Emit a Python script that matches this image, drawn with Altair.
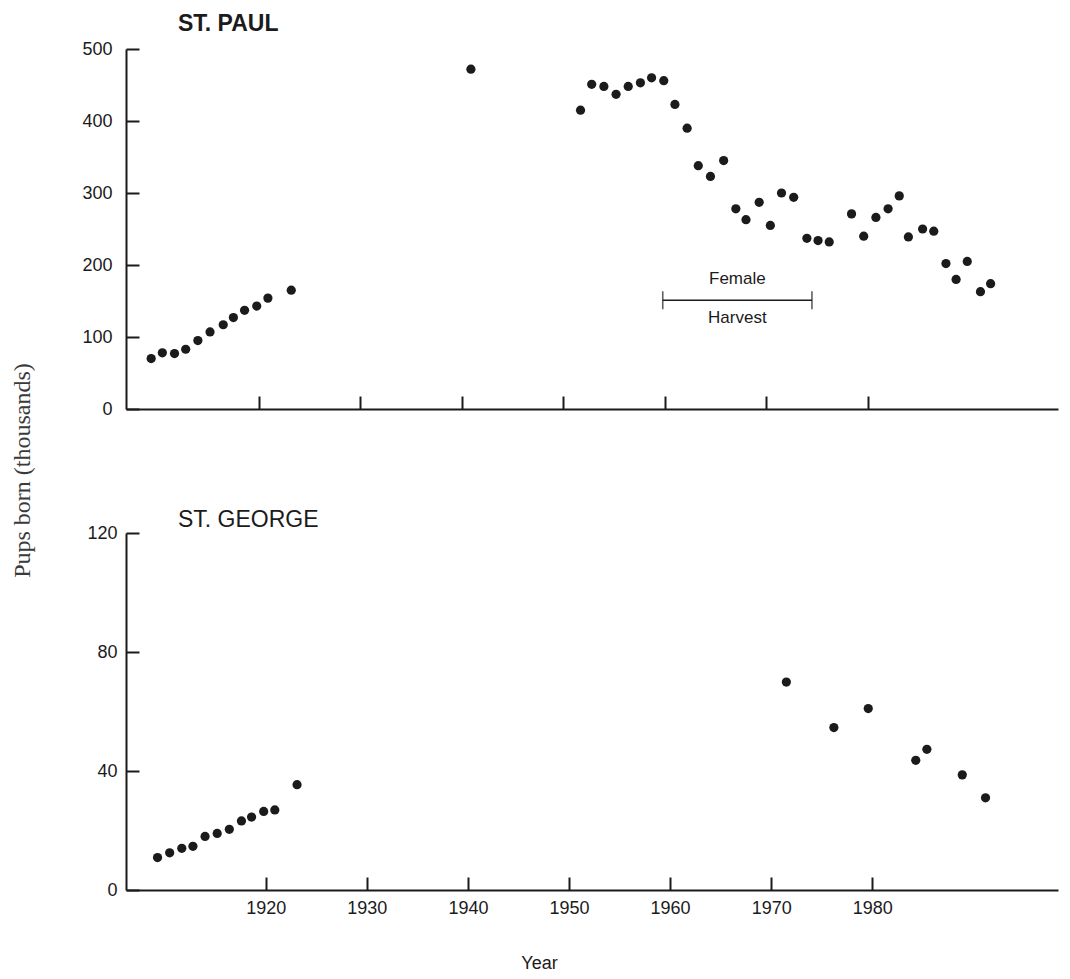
import altair as alt
import pandas as pd

# ---------------- data ----------------
# St. Paul (pups born, thousands); years
paul_years = [1909.4, 1910.5, 1911.7, 1912.8, 1914.0, 1915.2, 1916.5, 1917.5, 1918.6,
              1919.8, 1920.9, 1923.2, 1940.9,
              1951.7, 1952.8, 1954.0, 1955.2, 1956.4, 1957.6, 1958.7, 1959.9, 1961.0,
              1962.2, 1963.3, 1964.5, 1965.8, 1967.0, 1968.0, 1969.3, 1970.4, 1971.5,
              1972.7, 1974.0, 1975.1, 1976.2,
              1978.4, 1979.6, 1980.8, 1982.0, 1983.1, 1984.0, 1985.4, 1986.5, 1987.7,
              1988.7, 1989.8, 1991.1, 1992.1]
paul_pups = [70, 78, 77, 83, 95, 107, 117, 127, 137,
             143, 154, 165, 472,
             415, 451, 448, 437, 448, 453, 460, 456, 423,
             390, 338, 323, 345, 278, 263, 287, 255, 300,
             294, 237, 234, 232,
             271, 240, 266, 278, 296, 239, 250, 247, 202,
             180, 205, 163, 174]

# St. George
george_years = [1909.3, 1910.5, 1911.7, 1912.8, 1914.0, 1915.2, 1916.4, 1917.6, 1918.6,
                1919.8, 1920.9, 1923.1,
                1971.5, 1976.2, 1979.6, 1984.3, 1985.4, 1988.9, 1991.2]
george_pups = [10.9, 12.5, 14.0, 14.7, 18.0, 19.0, 20.4, 23.2, 24.5,
               26.4, 26.9, 35.4,
               69.9, 54.6, 61.0, 43.6, 47.3, 38.7, 31.0]

# Female harvest bracket (St. Paul panel)
harvest_start = 1959.8
harvest_end = 1974.5
harvest_level = 151
harvest_top_label = "Female"
harvest_bottom_label = "Harvest"

year_ticks = [1920, 1930, 1940, 1950, 1960, 1970, 1980]
paul_ticks = [0, 100, 200, 300, 400, 500]
george_ticks = [0, 40, 80, 120]

paul_df = pd.DataFrame({"year": paul_years, "pups": paul_pups})
george_df = pd.DataFrame({"year": george_years, "pups": george_pups})
harvest_df = pd.DataFrame({"start": [harvest_start], "end": [harvest_end],
                           "level": [harvest_level],
                           "mid": [(harvest_start + harvest_end) / 2],
                           "top": [harvest_top_label], "bottom": [harvest_bottom_label]})
caps_df = pd.DataFrame({"year": [harvest_start, harvest_end],
                        "level": [harvest_level, harvest_level]})

# ---------------- styling ----------------
INK = "#1b1b1b"
FONT = "Liberation Sans"
W = 932


def panel(df, xdomain, ydomain, yticks, height, title, title_weight, title_offset,
          bottom, ylabel_pad, extra=None):
    xs = alt.Scale(domain=xdomain, nice=False, zero=False)
    ys = alt.Scale(domain=ydomain, nice=False, zero=False)

    x_kw = dict(values=year_ticks, ticks=False, tickSize=0, domain=True,
                domainColor=INK, domainWidth=2, grid=False, format="d",
                labelFont=FONT, labelFontSize=18, labelColor=INK, labelPadding=9)
    if bottom:
        x_kw.update(labels=True, title="Year", titleFont=FONT, titleFontSize=18,
                    titleFontWeight="normal", titleColor=INK, titleX=413, titleY=73,
                    titleAlign="center", titleBaseline="middle")
    else:
        x_kw.update(labels=False, title=None)

    y_kw = dict(values=yticks, ticks=False, tickSize=0, domain=True,
                domainColor=INK, domainWidth=2, grid=False,
                labelFont=FONT, labelFontSize=18, labelColor=INK,
                labelPadding=ylabel_pad)
    if not bottom:
        y_kw.update(title="Pups born (thousands)", titleFont="Liberation Serif",
                    titleFontSize=24, titleFontWeight="normal", titleColor="#3a3a3a",
                    titleAngle=270, titleX=-104, titleY=421, titleAlign="center",
                    titleBaseline="middle")
    else:
        y_kw.update(title=None)

    points = alt.Chart(df).mark_circle(size=85, color=INK, opacity=1).encode(
        x=alt.X("year:Q", scale=xs, axis=alt.Axis(**x_kw)),
        y=alt.Y("pups:Q", scale=ys, axis=alt.Axis(**y_kw)),
    )
    # inward-pointing tick marks drawn by a second set of axes
    ticks = alt.Chart(df).mark_circle(opacity=0).encode(
        x=alt.X("year:Q", scale=xs,
                axis=alt.Axis(values=year_ticks, orient="bottom", offset=-13,
                              domain=False, labels=False, ticks=True, tickSize=13,
                              tickWidth=2, tickColor=INK, grid=False, title=None)),
        y=alt.Y("pups:Q", scale=ys,
                axis=alt.Axis(values=yticks, orient="left", offset=-13,
                              domain=False, labels=False, ticks=True, tickSize=13,
                              tickWidth=2, tickColor=INK, grid=False, title=None)),
    )
    layers = [points, ticks]
    if extra is not None:
        layers += extra(xs, ys)
    return alt.layer(*layers).resolve_axis(x="independent", y="independent").properties(
        width=W, height=height,
        title=alt.TitleParams(text=title, anchor="start", frame="group", dx=52,
                              offset=title_offset, fontSize=23, font=FONT,
                              fontWeight=title_weight, color=INK),
    )


def harvest_layers(xs, ys):
    line = alt.Chart(harvest_df).mark_rule(color=INK, strokeWidth=1.6).encode(
        x=alt.X("start:Q", scale=xs, axis=None),
        x2="end:Q",
        y=alt.Y("level:Q", scale=ys, axis=None),
    )
    caps = alt.Chart(caps_df).mark_tick(color=INK, orient="vertical", size=18,
                                        thickness=1.6).encode(
        x=alt.X("year:Q", scale=xs, axis=None),
        y=alt.Y("level:Q", scale=ys, axis=None),
    )
    top_txt = alt.Chart(harvest_df).mark_text(font=FONT, fontSize=17, color=INK,
                                              dy=-21, baseline="middle").encode(
        x=alt.X("mid:Q", scale=xs, axis=None),
        y=alt.Y("level:Q", scale=ys, axis=None),
        text="top:N",
    )
    bot_txt = alt.Chart(harvest_df).mark_text(font=FONT, fontSize=17, color=INK,
                                              dy=18, baseline="middle").encode(
        x=alt.X("mid:Q", scale=xs, axis=None),
        y=alt.Y("level:Q", scale=ys, axis=None),
        text="bottom:N",
    )
    return [line, caps, top_txt, bot_txt]


top = panel(paul_df, [1906.92, 1998.74], [0, 500], paul_ticks, 360,
            "ST. PAUL", "bold", 4, False, 14, extra=harvest_layers)
bottom = panel(george_df, [1906.18, 1998.37], [0, 120], george_ticks, 357,
               "ST. GEORGE", "normal", -8, True, 9)

chart = alt.vconcat(top, bottom, spacing=124, bounds="flush").resolve_scale(
    x="independent"
).properties(
    padding={"left": 2, "top": 5, "right": 2, "bottom": 2}
).configure_view(strokeWidth=0)

chart.save("out.html", embed_options={"renderer": "svg", "actions": False})
